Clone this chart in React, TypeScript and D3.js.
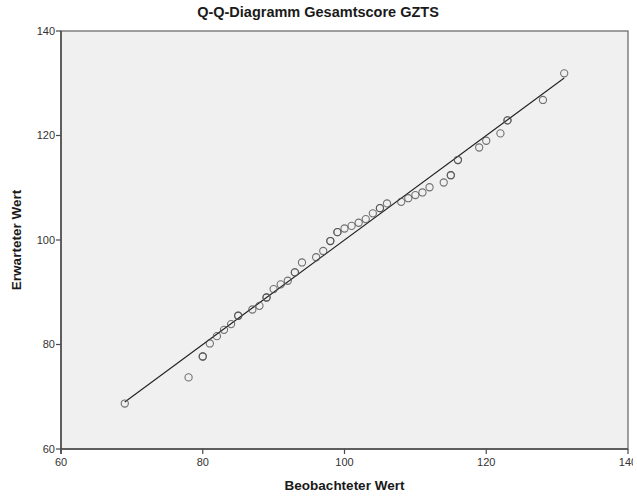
import React from "react";
import * as d3 from "d3";

// Observed total scores (GZTS) and their expected normal quantiles
const observed = [69, 78, 80, 81, 82, 83, 84, 85, 87, 88, 89, 90, 91, 92, 93, 94, 96, 97, 98, 99, 100, 101, 102, 103, 104, 105, 106, 108, 109, 110, 111, 112, 114, 115, 116, 119, 120, 122, 123, 128, 131];
const expected = [68.7, 73.7, 77.7, 80.2, 81.6, 82.8, 83.9, 85.5, 86.7, 87.4, 89.0, 90.6, 91.5, 92.2, 93.8, 95.7, 96.7, 97.9, 99.8, 101.5, 102.2, 102.7, 103.3, 104.0, 105.1, 106.1, 107.0, 107.3, 108.0, 108.6, 109.1, 110.1, 111.0, 112.4, 115.3, 117.7, 119.0, 120.4, 122.9, 126.8, 131.9];
// number of cases sharing each observed value
const caseCount = [1, 1, 2, 1, 1, 1, 1, 2, 1, 1, 2, 1, 1, 1, 2, 1, 1, 1, 2, 2, 1, 1, 1, 1, 1, 2, 1, 1, 1, 1, 1, 1, 1, 2, 2, 1, 1, 1, 2, 1, 1];

const xTicks = [60, 80, 100, 120, 140];
const yTicks = [60, 80, 100, 120, 140];
const xDomain: [number, number] = [60, 140];
const yDomain: [number, number] = [60, 140];

const W = 637;
const H = 497;
const M = { left: 61, right: 628, top: 31, bottom: 449 };

export default function App() {
  const x = d3.scaleLinear().domain(xDomain).range([M.left, M.right]);
  const y = d3.scaleLinear().domain(yDomain).range([M.bottom, M.top]);

  const pts: { o: number; e: number }[] = [];
  observed.forEach((o, i) => {
    for (let k = 0; k < caseCount[i]; k++) pts.push({ o, e: expected[i] });
  });

  const lo = d3.min(observed) as number;
  const hi = d3.max(observed) as number;
  const ref = d3.line<number>().x((v) => x(v)).y((v) => y(v))([lo, hi]) as string;

  const font = "Arial, 'Liberation Sans', sans-serif";

  return (
    <svg width={W} height={H} style={{ position: "absolute", left: 0, top: 0 }} fontFamily={font}>
      <defs>
        <clipPath id="clipRight">
          <rect x={0} y={0} width={633} height={H} />
        </clipPath>
      </defs>
      <rect x={0} y={0} width={W} height={H} fill="#ffffff" />
      <rect x={M.left} y={M.top} width={M.right - M.left} height={M.bottom - M.top} fill="#f0f0f0" stroke="#6e6e6e" strokeWidth={1.3} />

      <text x={318} y={17} textAnchor="middle" fontSize={14.5} fontWeight="bold" fill="#1a1a1a">
        Q-Q-Diagramm Gesamtscore GZTS
      </text>

      {/* y axis */}
      <line x1={M.left} x2={M.left} y1={M.top} y2={M.bottom + 5} stroke="#4a4a4a" strokeWidth={1.5} />
      {yTicks.map((t) => (
        <g key={"y" + t}>
          <line x1={M.left - 5} x2={M.left} y1={y(t)} y2={y(t)} stroke="#4a4a4a" strokeWidth={1.2} />
          <text x={M.left - 6} y={y(t)} dy="0.35em" textAnchor="end" fontSize={11} fill="#333">
            {t}
          </text>
        </g>
      ))}

      {/* x axis */}
      <g clipPath="url(#clipRight)">
        <line x1={M.left} x2={M.right} y1={M.bottom} y2={M.bottom} stroke="#4a4a4a" strokeWidth={1.5} />
        {xTicks.map((t) => (
          <g key={"x" + t}>
            <line x1={x(t)} x2={x(t)} y1={M.bottom} y2={M.bottom + 5} stroke="#4a4a4a" strokeWidth={1.2} />
            <text x={x(t)} y={M.bottom + 17} textAnchor="middle" fontSize={11} fill="#333">
              {t}
            </text>
          </g>
        ))}
      </g>

      <text x={(M.left + M.right) / 2} y={490} textAnchor="middle" fontSize={13.5} fontWeight="bold" fill="#1a1a1a">
        Beobachteter Wert
      </text>
      <text
        transform={`translate(21,${(M.top + M.bottom) / 2}) rotate(-90)`}
        textAnchor="middle"
        fontSize={13.5}
        fontWeight="bold"
        fill="#1a1a1a"
      >
        Erwarteter Wert
      </text>

      <path d={ref} fill="none" stroke="#222" strokeWidth={1.1} />

      {pts.map((p, i) => (
        <circle key={i} cx={x(p.o)} cy={y(p.e)} r={3.6} fill="none" stroke="#505050" strokeOpacity={0.8} strokeWidth={1.1} />
      ))}
    </svg>
  );
}
